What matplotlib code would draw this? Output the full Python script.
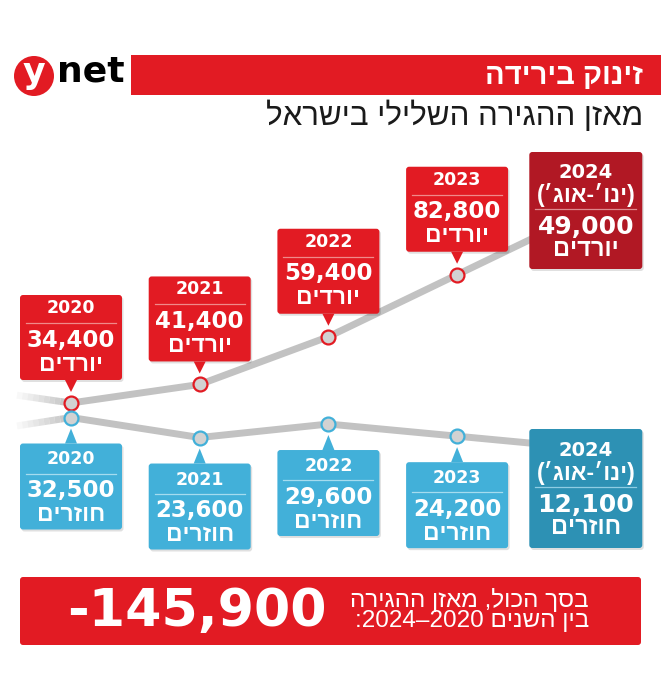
import re

import matplotlib.pyplot as plt
from matplotlib.collections import LineCollection
from matplotlib.patches import Circle, FancyBboxPatch, Polygon, Rectangle

years = ["2020", "2021", "2022", "2023"]
emigrants = [34400, 41400, 59400, 82800]   # יורדים
returnees = [32500, 23600, 29600, 24200]   # חוזרים
partial_year = "2024"
partial_period = "(ינו׳-אוג׳)"
partial_emigrants = 49000
partial_returnees = 12100
total_balance = -145900

title = "זינוק בירידה"
subtitle = "מאזן ההגירה השלילי בישראל"
out_word = "יורדים"
in_word = "חוזרים"
total_lines = ["בסך הכול, מאזן ההגירה", "בין השנים 2020–2024:"]

# Colours
RED = "#e21b23"
DARK_RED = "#b11824"
BLUE = "#42b0d9"
DARK_BLUE = "#2d91b4"
LINE_GRAY = "#c2c2c2"

W, H = 661, 680
HEB = ["Liberation Sans", "DejaVu Sans"]
NUM = ["DejaVu Sans"]


# Helpers
def rtl(s):
    """Reverse a Hebrew string for left-to-right drawing, keep numbers readable."""
    out = s[::-1].translate(str.maketrans("()", ")("))
    return re.sub(r"[0-9][0-9,.]*", lambda m: m.group(0)[::-1], out)


def to_px(ax, fg, x, y):
    # data coords of a series axes -> pixel coords of the overlay axes
    return fg.transData.inverted().transform(ax.transData.transform((x, y)))


def set_value_scale(ax, v0, px0, px_per_unit):
    # v0 sits at row px0 (from the top), each unit moves px_per_unit rows
    ax.set_ylim(v0 - (H - px0) / px_per_unit, v0 + px0 / px_per_unit)


def draw_series(ax, values, edge_color):
    xs = list(range(len(values)))
    # lead-in mirrors the first segment, lead-out continues the last one
    tail = 0.42
    lead = values[0] + (values[1] - values[0]) * tail
    end = values[-1] + (values[-1] - values[-2])
    ax.plot(xs + [len(values)], values + [end], color=LINE_GRAY, lw=5,
            solid_capstyle="round", solid_joinstyle="round", zorder=1)
    n = 10
    segs, alphas = [], []
    for k in range(n):
        t0, t1 = k / n, (k + 1) / n
        segs.append([(-tail * (1 - t0), lead + (values[0] - lead) * t0),
                     (-tail * (1 - t1), lead + (values[0] - lead) * t1)])
        alphas.append((k + 1) / n)
    colors = [(0.76, 0.76, 0.76, a) for a in alphas]
    ax.add_collection(LineCollection(segs, colors=colors, linewidths=5,
                                     capstyle="butt", zorder=1))
    ax.plot(xs, values, "o", ms=10, mfc="#d2d2d2", mec=edge_color, mew=1.6,
            zorder=2)


def card(fg, cx, top, width, height, color, sep_color, rows, sep_at, tip=None):
    fg.add_patch(FancyBboxPatch((cx - width / 2 + 1.5, top + 2), width, height,
                                boxstyle="round,pad=0,rounding_size=3",
                                fc="black", ec="none", alpha=0.12, zorder=3))
    fg.add_patch(FancyBboxPatch((cx - width / 2, top), width, height,
                                boxstyle="round,pad=0,rounding_size=3",
                                fc=color, ec="none", zorder=4))
    if tip is not None:
        base, point = tip
        fg.add_patch(Polygon([(cx - 6, base), (cx + 6, base), (cx, point)],
                             closed=True, fc=color, ec="none", zorder=4))
    fg.plot([cx - width / 2 + 6, cx + width / 2 - 6], [top + sep_at] * 2,
            color=sep_color, lw=0.9, zorder=5)
    for dy, text, size, weight, family in rows:
        fg.text(cx, top + dy, text, ha="center", va="center", color="white",
                fontsize=size, fontweight=weight, family=family, zorder=6)


def main():
    fig = plt.figure(figsize=(W / 100, H / 100), dpi=100)
    fig.patch.set_facecolor("white")

    # x: one slot per year, 2020 at px 71, 128.7 px apart
    x0, dx = 71, 128.7
    ax_out = fig.add_axes([0, 0, 1, 1])
    ax_in = fig.add_axes([0, 0, 1, 1])
    for ax in (ax_out, ax_in):
        ax.set_xlim(-x0 / dx, (W - x0) / dx)
        ax.axis("off")
        ax.patch.set_alpha(0)
    set_value_scale(ax_out, emigrants[0], 403, 0.00265)
    set_value_scale(ax_in, returnees[0], 417.5, 0.00225)

    draw_series(ax_out, emigrants, RED)
    draw_series(ax_in, returnees, BLUE)

    fg = fig.add_axes([0, 0, 1, 1])
    fg.set_xlim(0, W)
    fg.set_ylim(H, 0)
    fg.axis("off")
    fg.patch.set_alpha(0)

    # header: logo, red band, titles
    fg.add_patch(Circle((34, 76), 20, fc=RED, ec="none"))
    fg.text(34, 73, "y", ha="center", va="center", color="white",
            fontsize=25, fontweight="bold", family=NUM)
    fg.text(57, 72, "net", ha="left", va="center", color="black",
            fontsize=26, fontweight="bold", family=NUM)
    fg.add_patch(Rectangle((131, 55), W - 131, 40, fc=RED, ec="none"))
    fg.text(643, 76, rtl(title), ha="right", va="center", color="white",
            fontsize=21, fontweight="bold", family=HEB)
    fg.text(643, 116, rtl(subtitle), ha="right", va="center", color="#1a1a1a",
            fontsize=22.5, family=HEB)

    # yearly cards
    for i, year in enumerate(years):
        px, py = to_px(ax_out, fg, i, emigrants[i])
        bottom = py - 23
        rows = [(13, year, 12.5, "bold", NUM),
                (45, f"{emigrants[i]:,}", 16.5, "bold", NUM),
                (69, rtl(out_word), 16.5, "bold", HEB)]
        card(fg, px, bottom - 85, 102, 85, RED, "#f08a8a", rows, 28,
             tip=(bottom, py - 11))

        px, py = to_px(ax_in, fg, i, returnees[i])
        top = py + 26
        rows = [(16, year, 12.5, "bold", NUM),
                (47, f"{returnees[i]:,}", 16.5, "bold", NUM),
                (71, rtl(in_word), 16.5, "bold", HEB)]
        card(fg, px, top, 102, 86, BLUE, "#a5dcef", rows, 30,
             tip=(top, py + 11))

    # partial 2024 cards
    px, _ = to_px(ax_out, fg, len(years), emigrants[-1])
    rows = [(21, partial_year, 14, "bold", NUM),
            (43, rtl(partial_period), 16.5, "bold", HEB),
            (75, f"{partial_emigrants:,}", 18, "bold", NUM),
            (98, rtl(out_word), 17, "bold", HEB)]
    card(fg, px, 152, 113, 117, DARK_RED, "#e08a8f", rows, 57)
    rows = [(21, partial_year, 14, "bold", NUM),
            (44, rtl(partial_period), 16.5, "bold", HEB),
            (76, f"{partial_returnees:,}", 18, "bold", NUM),
            (99, rtl(in_word), 17, "bold", HEB)]
    card(fg, px, 429, 113, 119, DARK_BLUE, "#8fcde3", rows, 58)

    # total banner
    fg.add_patch(FancyBboxPatch((20, 577), 621, 68,
                                boxstyle="round,pad=0,rounding_size=3",
                                fc=RED, ec="none", zorder=4))
    fg.text(197, 612, f"-{abs(total_balance):,}", ha="center", va="center",
            color="white", fontsize=37.5, fontweight="bold", family=NUM, zorder=6)
    for k, line in enumerate(total_lines):
        fg.text(589, 600 + 21 * k, rtl(line), ha="right", va="center",
                color="white", fontsize=17.5, family=HEB, zorder=6)

    fig.savefig("out.png", dpi=100)


if __name__ == "__main__":
    main()
